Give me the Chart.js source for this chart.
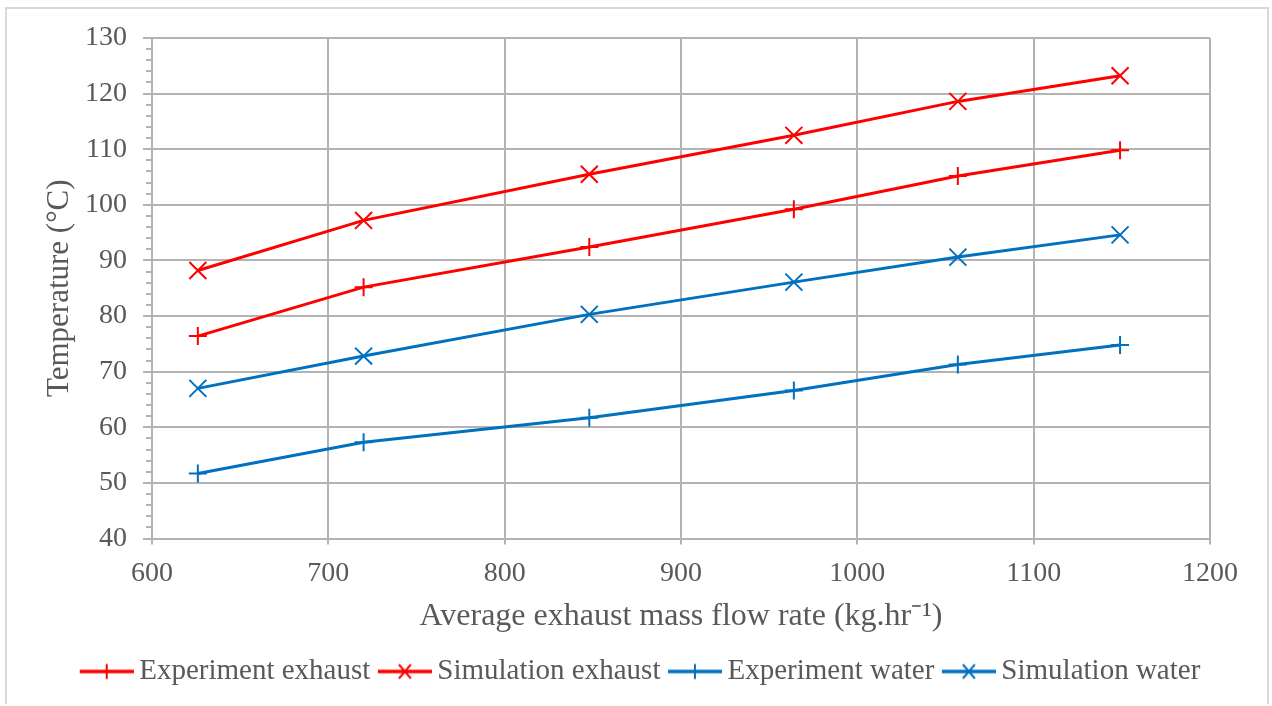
<!DOCTYPE html>
<html>
<head>
<meta charset="utf-8">
<script src="https://cdn.jsdelivr.net/npm/chart.js@4/dist/chart.umd.min.js"></script>
<style>
  html, body { margin: 0; padding: 0; background: #ffffff; }
  #wrap { width: 1272px; height: 706px; position: relative; }
</style>
</head>
<body>
<div id="wrap"><canvas id="c" width="1272" height="706"></canvas></div>
<script>
// ---- data ----
const flowRates = [626, 720, 848, 964, 1057, 1149];
const experimentExhaust = [76.4, 85.2, 92.4, 99.2, 105.2, 109.8];
const simulationExhaust = [88.2, 97.2, 105.5, 112.5, 118.6, 123.2];
const experimentWater = [51.7, 57.3, 61.7, 66.6, 71.3, 74.8];
const simulationWater = [67.0, 72.8, 80.3, 86.1, 90.6, 94.6];
const seriesNames = ['Experiment exhaust', 'Simulation exhaust', 'Experiment water', 'Simulation water'];
const xTickRange = [600, 1200, 100];
const yTickRange = [40, 130, 10];
const yMinorStep = 2;
const xTitle = 'Average exhaust mass flow rate (kg.hr\u207B\u00B9)';
const yTitle = 'Temperature (\u00B0C)';

// ---- styles ----
const RED = '#FF0000', BLUE = '#0070C0';
const GRID = '#b3b3b3', TEXT = '#595959';
const FONT = "'Liberation Serif', 'Times New Roman', serif";

function pts(vals) { return flowRates.map((x, i) => ({ x: x, y: vals[i] })); }

function legendImage(color, style) {
  const cv = document.createElement('canvas');
  cv.width = 60; cv.height = 20;
  const g = cv.getContext('2d');
  g.strokeStyle = color;
  g.lineWidth = 3.5;
  g.beginPath(); g.moveTo(6, 10); g.lineTo(60, 10); g.stroke();
  g.lineWidth = 2;
  g.beginPath();
  const cx = 33, cy = 10;
  if (style === 'plus') {
    g.moveTo(cx - 7.5, cy); g.lineTo(cx + 7.5, cy);
    g.moveTo(cx, cy - 7.5); g.lineTo(cx, cy + 7.5);
  } else {
    g.moveTo(cx - 6, cy - 7); g.lineTo(cx + 6, cy + 7);
    g.moveTo(cx - 6, cy + 7); g.lineTo(cx + 6, cy - 7);
  }
  g.stroke();
  return cv;
}
const legendImgs = [
  legendImage(RED, 'plus'), legendImage(RED, 'x'),
  legendImage(BLUE, 'plus'), legendImage(BLUE, 'x')
];

function ds(label, vals, color, style) {
  const cross = style === 'plus';
  return {
    label: label,
    data: pts(vals),
    showLine: true,
    borderColor: color,
    backgroundColor: color,
    borderWidth: 3,
    pointStyle: cross ? 'cross' : 'crossRot',
    pointRadius: cross ? 9 : 12,
    pointHoverRadius: cross ? 9 : 12,
    pointBorderWidth: 2,
    pointBorderColor: color,
    tension: 0
  };
}

const frame = {
  id: 'frame',
  beforeDraw(chart) {
    const g = chart.ctx;
    g.save();
    g.strokeStyle = '#d9d9d9';
    g.lineWidth = 2;
    g.beginPath();
    g.moveTo(6, 704); g.lineTo(6, 8); g.lineTo(1268, 8); g.lineTo(1268, 704);
    g.stroke();
    g.restore();
  }
};

const minorTicks = {
  id: 'minorTicks',
  afterDraw(chart) {
    const s = chart.scales.y;
    const g = chart.ctx;
    const left = chart.chartArea.left;
    g.save();
    g.strokeStyle = GRID;
    g.lineWidth = 2;
    g.beginPath();
    for (let v = yTickRange[0]; v <= yTickRange[1]; v += yMinorStep) {
      if (v % yTickRange[2] === 0) continue;
      const py = Math.round(s.getPixelForValue(v));
      g.moveTo(left - 6, py); g.lineTo(left, py);
    }
    g.stroke();
    g.restore();
  }
};

new Chart(document.getElementById('c'), {
  type: 'scatter',
  data: {
    datasets: [
      ds(seriesNames[0], experimentExhaust, RED, 'plus'),
      ds(seriesNames[1], simulationExhaust, RED, 'x'),
      ds(seriesNames[2], experimentWater, BLUE, 'plus'),
      ds(seriesNames[3], simulationWater, BLUE, 'x')
    ]
  },
  options: {
    responsive: false,
    animation: false,
    events: [],
    layout: { padding: { left: 11, right: 0, top: 38, bottom: 10 } },
    scales: {
      x: {
        type: 'linear',
        position: 'bottom',
        min: xTickRange[0], max: xTickRange[1],
        ticks: { stepSize: xTickRange[2], color: TEXT, font: { family: FONT, size: 28 }, padding: 12, maxRotation: 0,
                 callback: (v) => String(v) },
        grid: { color: GRID, lineWidth: 2, tickLength: 6, drawTicks: true },
        border: { color: GRID, width: 2 },
        title: { display: true, text: xTitle, color: TEXT, font: { family: FONT, size: 32 }, padding: { top: 0, bottom: 11 } },
        afterFit(s) { s.height = 108; }
      },
      y: {
        type: 'linear',
        position: 'left',
        min: yTickRange[0], max: yTickRange[1],
        ticks: { stepSize: yTickRange[2], color: TEXT, font: { family: FONT, size: 28 }, padding: 16,
                 callback: (v) => String(v) },
        grid: { color: GRID, lineWidth: 2, tickLength: 9, drawTicks: true },
        border: { color: GRID, width: 2 },
        title: { display: true, text: yTitle, color: TEXT, font: { family: FONT, size: 31 }, padding: { top: 30, bottom: 0 } },
        afterFit(s) { s.width = 141; }
      },
      yR: {
        type: 'linear',
        position: 'right',
        display: true,
        grid: { display: false, drawTicks: false },
        border: { display: false },
        ticks: { display: false },
        afterFit(s) { s.width = 62; }
      }
    },
    plugins: {
      tooltip: { enabled: false },
      legend: {
        display: true,
        position: 'bottom',
        labels: {
          usePointStyle: true,
          pointStyleWidth: 42,
          padding: 10.5,
          color: TEXT,
          font: { family: FONT, size: 29 },
          generateLabels(chart) {
            const items = Chart.defaults.plugins.legend.labels.generateLabels(chart);
            items.forEach((it, i) => { it.pointStyle = legendImgs[i]; it.fontColor = TEXT; });
            return items;
          }
        }
      }
    }
  },
  plugins: [frame, minorTicks]
});
</script>
</body>
</html>
